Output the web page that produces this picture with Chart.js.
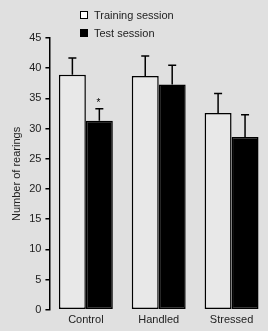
<!DOCTYPE html>
<html>
<head>
<meta charset="utf-8">
<script src="https://cdn.jsdelivr.net/npm/chart.js@4/dist/chart.umd.min.js"></script>
<style>
  html, body { margin: 0; padding: 0; background: #e0e0e0; }
  #wrap { position: relative; width: 268px; height: 331px; }
  #legend { position: absolute; left: 80px; top: 6px; font: 11px "Liberation Sans", Arial, sans-serif; color: #222; }
  #legend div { display: flex; align-items: center; height: 18px; }
  #legend span.box { width: 8px; height: 8px; border: 1px solid #000; margin-right: 6px; box-sizing: border-box; }
</style>
</head>
<body>
<div id="wrap">
  <canvas id="chart" width="268" height="331"></canvas>
  <div id="legend"></div>
</div>
<script>
const groups = ['Control', 'Handled', 'Stressed'];
const trainingMeans = [38.9, 38.7, 32.6];
const trainingErrors = [2.8, 3.3, 3.2];
const testMeans = [31.3, 37.3, 28.6];
const testErrors = [2.0, 3.2, 3.7];
const testMarks = ['*', '', ''];
const yTicks = [0, 5, 10, 15, 20, 25, 30, 35, 40, 45];

const errorBars = {
    id: 'errorBars',
    afterDatasetsDraw(chart) {
        const ctx = chart.ctx;
        const y = chart.scales.y;
        const errs = [trainingErrors, testErrors];
        ctx.save();
        ctx.strokeStyle = '#000';
        ctx.lineWidth = 1.5;
        chart.data.datasets.forEach((ds, di) => {
            const meta = chart.getDatasetMeta(di);
            meta.data.forEach((bar, i) => {
                const top = y.getPixelForValue(ds.data[i] + errs[di][i]);
                const cx = bar.x;
                ctx.beginPath();
                ctx.moveTo(cx, bar.y);
                ctx.lineTo(cx, top);
                ctx.moveTo(cx - 4, top);
                ctx.lineTo(cx + 4, top);
                ctx.stroke();
                if (di === 1 && testMarks[i]) {
                    ctx.fillStyle = '#000';
                    ctx.font = '10px "Liberation Sans", Arial, sans-serif';
                    ctx.textAlign = 'center';
                    ctx.fillText(testMarks[i], cx - 1, top - 3);
                }
            });
        });
        ctx.restore();
    }
};

const chart = new Chart(document.getElementById('chart'), {
    type: 'bar',
    data: {
        labels: groups,
        datasets: [{
            label: 'Training session',
            data: trainingMeans,
            backgroundColor: '#e8e8e8',
            borderColor: '#000',
            borderWidth: 1.5,
            borderSkipped: false
        }, {
            label: 'Test session',
            data: testMeans,
            backgroundColor: '#000',
            borderColor: '#000',
            borderWidth: 1.5,
            borderSkipped: false
        }]
    },
    options: {
        responsive: false,
        animation: false,
        layout: { padding: { top: 38, right: 0, left: 8, bottom: 8 } },
        plugins: { legend: { display: false }, tooltip: { enabled: false } },
        datasets: { bar: { categoryPercentage: 0.74, barPercentage: 1 } },
        scales: {
            x: {
                grid: { display: false },
                border: { display: false },
                ticks: { color: '#222', font: { family: '"Liberation Sans", Arial, sans-serif', size: 11 }, padding: -4 }
            },
            y: {
                min: 0,
                max: 45,
                afterBuildTicks: axis => { axis.ticks = yTicks.map(v => ({ value: v })); },
                grid: { drawOnChartArea: false, drawTicks: true, tickLength: 4, color: '#000', lineWidth: 1.5 },
                border: { display: true, color: '#000', width: 1.5 },
                ticks: { color: '#222', font: { family: '"Liberation Sans", Arial, sans-serif', size: 11 }, padding: 4 },
                title: { display: true, text: 'Number of rearings', color: '#222', font: { family: '"Liberation Sans", Arial, sans-serif', size: 11 }, padding: 2 }
            }
        }
    },
    plugins: [errorBars]
});

const legend = document.getElementById('legend');
chart.data.datasets.forEach(ds => {
    const row = document.createElement('div');
    const box = document.createElement('span');
    box.className = 'box';
    box.style.background = ds.backgroundColor === '#000' ? '#000' : '#fff';
    row.appendChild(box);
    row.appendChild(document.createTextNode(ds.label));
    legend.appendChild(row);
});
</script>
</body>
</html>
